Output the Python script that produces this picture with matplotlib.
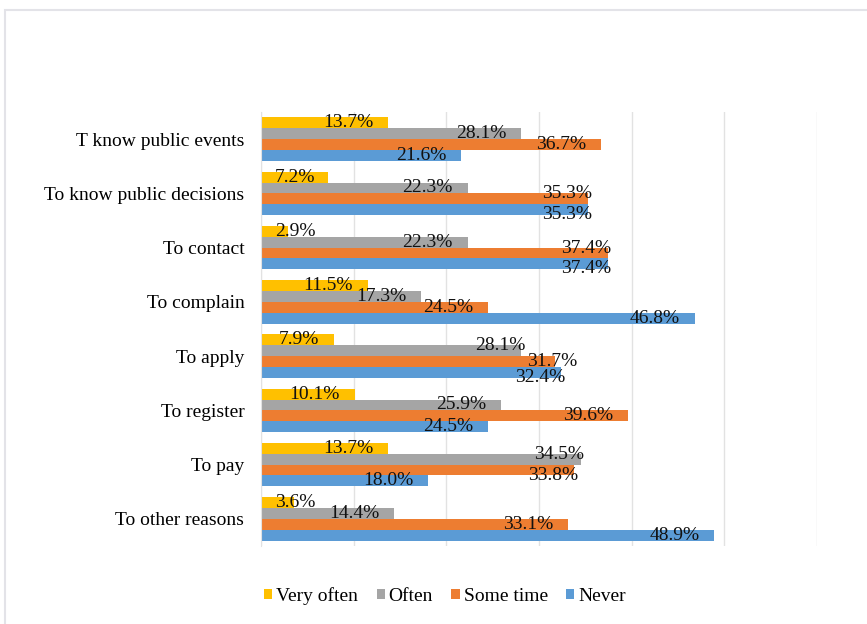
import numpy as np
import matplotlib.pyplot as plt
from matplotlib.patches import Rectangle
from matplotlib.transforms import offset_copy

plt.rcParams['font.family'] = ['Liberation Serif', 'DejaVu Serif']

categories = ["T know public events", "To know public decisions", "To contact",
              "To complain", "To apply", "To register", "To pay", "To other reasons"]
very_often = [13.7, 7.2, 2.9, 11.5, 7.9, 10.1, 13.7, 3.6]
often = [28.1, 22.3, 22.3, 17.3, 28.1, 25.9, 34.5, 14.4]
some_time = [36.7, 35.3, 37.4, 24.5, 31.7, 39.6, 33.8, 33.1]
never = [21.6, 35.3, 37.4, 46.8, 32.4, 24.5, 18.0, 48.9]

series = [("Very often", very_often, "#FFC000"),
          ("Often", often, "#A5A5A5"),
          ("Some time", some_time, "#ED7D31"),
          ("Never", never, "#5B9BD5")]

fig = plt.figure(figsize=(8.67, 6.24), dpi=100)
# light chart frame
fig.patches.append(Rectangle((5 / 867, -0.01), 1.0, 1 - 10 / 624 + 0.01,
                             transform=fig.transFigure, fill=False,
                             edgecolor="#E3E3E8", linewidth=1.5))

ax = fig.add_axes([261 / 867, 1 - 546 / 624, (817 - 261) / 867, (546 - 112) / 624])

y = np.arange(len(categories))
h = 0.2
lab_w = 5.2  # approx label width in data units
for i, (name, vals, color) in enumerate(series):
    pos = y - 0.3 + i * h
    ax.barh(pos, vals, height=h, color=color, label=name)

# data labels, nudged apart where neighbours collide (like Excel does)
for g in range(len(categories)):
    vals = [s[1][g] for s in series]
    xs = [max(v - 1.6, 5.9) for v in vals]
    dys = [0.0] * 4
    for i in range(3):
        if abs(xs[i] - xs[i + 1]) < lab_w * 0.7:
            xs[i] += 2.0
            xs[i + 1] += 2.0
            dys[i] -= 5
            dys[i + 1] += 5
    for i in range(4):
        tr = offset_copy(ax.transData, fig=fig, x=0, y=-dys[i], units="dots")
        ax.text(xs[i], g - 0.3 + i * h, f"{vals[i]:.1f}%", ha="right", va="center",
                fontsize=14, color="#111111", transform=tr)

ax.set_xlim(0, 60)
ax.set_ylim(len(categories) - 0.5, -0.5)
ax.set_xticks(np.arange(0, 61, 10))
ax.set_xticklabels([])
ax.tick_params(axis="both", length=0)
ax.set_yticks(y)
ax.set_yticklabels(categories, fontsize=14)
ax.tick_params(axis="y", pad=12)
ax.grid(axis="x", color="#E2E2E2", linewidth=1)
ax.set_axisbelow(True)
for s in ["top", "right", "bottom"]:
    ax.spines[s].set_visible(False)
ax.spines["left"].set_color("#E2E2E2")

fig.legend(loc="center", bbox_to_anchor=(445 / 867, 1 - 596 / 624), ncol=4,
           frameon=False, fontsize=14, handlelength=0.42, handleheight=0.42,
           handletextpad=0.2, columnspacing=0.95)

fig.savefig("out.png", dpi=100)
